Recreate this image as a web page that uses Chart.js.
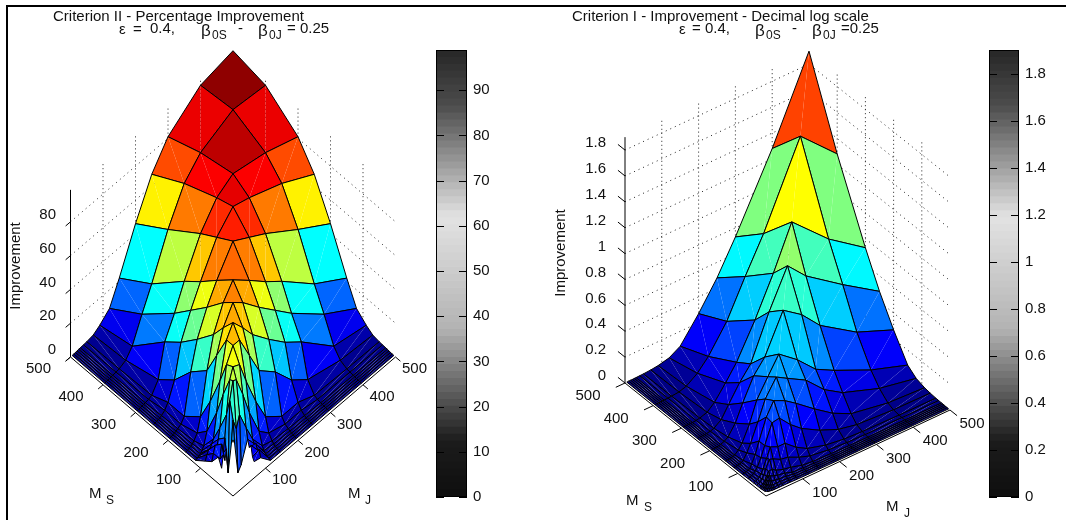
<!DOCTYPE html>
<html>
<head>
<meta charset="utf-8">
<title>Criterion surfaces</title>
<script src="https://cdn.jsdelivr.net/npm/chart.js@4/dist/chart.umd.js"></script>
<style>
    html, body { margin: 0; padding: 0; background: #fff; overflow: hidden; }
    canvas { position: absolute; top: 0; }
    #frame { position: absolute; left: 6px; top: 5px; right: 0; bottom: 0; border-top: 2px solid #000; border-left: 2px solid #000; }
</style>
</head>
<body>
<div id="frame"></div>
<canvas id="surfaceII" width="436" height="520" style="left:0"></canvas>
<canvas id="barII" width="80" height="520" style="left:436px"></canvas>
<canvas id="surfaceI" width="449" height="520" style="left:540px"></canvas>
<canvas id="barI" width="77" height="520" style="left:989px"></canvas>
<script>
// grid of the two surfaces, same for M_S (rows) and M_J (columns)
const msValues = [500, 400, 300, 250, 200, 150, 120, 90, 70, 50, 40, 30, 25, 20, 15, 10, 5]
const mjValues = [500, 400, 300, 250, 200, 150, 120, 90, 70, 50, 40, 30, 25, 20, 15, 10, 5]

// Criterion II, percentage improvement, one row per M_S
const _ = null
const improvementII = [
    [99, 95, 81, 67, 46, 22, 9, 4, 1.5, .8, .6, .5, .4, .3, .2, .1, .1],
    [95, 97, 88, 78, 59, 35, 22, 8, 3, 1.2, .9, .7, .6, .4, .3, .2, .1],
    [81, 88, 92, 86, 73, 53, 39, 27, 8, 2, 1.2, .9, .7, .5, .4, .3, .2],
    [67, 78, 86, 89, 79, 61, 49, 35, 16, 6, 3, 1.5, 1, .8, .6, .4, .2],
    [46, 59, 73, 79, 85, 70, 59, 45, 29, 6, 3, 2, 1.4, 1, .8, .5, .3],
    [22, 35, 53, 61, 70, 78.5, 70, 56, 38, 14, 6, 3, 2, 1.4, 1, .7, .4],
    [9, 22, 39, 49, 59, 70, 75, 65, 52, 28, 12, 5, 3, 2, 1.4, 1, .5],
    [4, 8, 27, 35, 45, 56, 65, 73, 66, 45, 28, 14, 12, 10, 10, 8, 5],
    [1.5, 3, 8, 16, 29, 38, 52, 66, 66, 58, 42, 24, 18, 14, 16, 12, 8],
    [.8, 1.2, 2, 6, 6, 14, 28, 45, 58, 60, 54, 35, 22, 14, 20, 12, 14],
    [.6, .9, 1.2, 3, 3, 6, 12, 28, 42, 54, 55, 45, 3, 18, 12, 16, 9],
    [.5, .7, .9, 1.5, 2, 3, 5, 14, 24, 35, 28, 35, 22, _, _, _, _],
    [.4, .6, .7, 1, 1.4, 2, 3, 12, 18, 6, 3, 22, 25, _, _, _, _],
    [.3, .4, .5, .8, 1, 1.4, 2, 13, 14, _, _, _, _, _, _, _, _],
    [.2, .3, .4, .6, .8, 1, 1.4, 10, 16, _, _, _, _, _, _, _, _],
    [.1, .2, .3, .4, .5, .7, 1, 11, 10, _, _, _, _, _, _, _, _],
    [.1, .1, .2, .2, .3, .4, .5, 7, 8, _, _, _, _, _, _, _, _]
]

// Criterion I, improvement on decimal log scale
const improvementI = [
    [1.9, 1.28, .73, .48, .27, .085, .035, .015, .008, .004, .003, .002, .002, .001, .001, .001, 0],
    [1.28, 1.55, .93, .665, .385, .18, .09, .03, .012, .006, .004, .003, .002, .002, .001, .001, 0],
    [.73, .93, 1.195, .865, .57, .31, .19, .08, .03, .012, .006, .004, .003, .002, .002, .001, .001],
    [.48, .665, .865, 1.01, .72, .385, .28, .15, .06, .02, .01, .006, .004, .003, .002, .002, .001],
    [.27, .385, .57, .72, .82, .525, .42, .25, .12, .04, .02, .01, .006, .004, .003, .002, .001],
    [.085, .18, .31, .385, .525, .635, .5, .36, .2, .08, .04, .015, .01, .007, .005, .003, .002],
    [.035, .09, .19, .28, .42, .5, .55, .42, .27, .13, .07, .025, .015, .01, .007, .004, .002],
    [.015, .03, .08, .15, .25, .36, .42, .46, .36, .2, .11, .05, .02, .015, .01, .006, .003],
    [.008, .012, .03, .06, .12, .2, .27, .36, .35, .2, .12, .06, .04, .025, .015, .01, .005],
    [.004, .006, .012, .02, .04, .08, .13, .2, .2, .225, .15, .08, .05, .03, .02, .012, .006],
    [.003, .004, .006, .01, .02, .04, .07, .11, .12, .15, .16, .1, .06, .035, .02, .012, .006],
    [.002, .003, .004, .006, .01, .015, .025, .05, .06, .08, .1, .1, .07, .04, .02, .01, .006],
    [.002, .002, .003, .004, .006, .01, .015, .02, .04, .05, .06, .07, .08, .05, .025, .012, .006],
    [.001, .002, .002, .003, .004, .007, .01, .015, .025, .03, .035, .04, .05, .06, .03, .015, .008],
    [.001, .001, .002, .002, .003, .005, .007, .01, .015, .02, .02, .02, .025, .03, .045, .02, .01],
    [.001, .001, .001, .002, .002, .003, .004, .006, .01, .012, .012, .01, .012, .015, .02, .03, .012],
    [0, 0, .001, .001, .001, .002, .002, .003, .005, .006, .006, .006, .006, .008, .01, .012, .02]
]

// colour level of the large back cells: row, column, level
const cellLevelsII = [[0, 0, .985], [0, 1, .895], [1, 0, .895], [1, 1, .94], [0, 4, .375], [4, 0, .375]]
const cellLevelsI = [[0, 0, .81], [0, 1, .5], [1, 0, .5], [1, 1, .625], [1, 2, .44], [2, 1, .44]]

const baseTicks = [100, 200, 300, 400, 500]
const zTicksII = [0, 20, 40, 60, 80]
const zTicksI = [0, .2, .4, .6, .8, 1, 1.2, 1.4, 1.6, 1.8]
const zTopII = 98.9
const zTopI = 1.9

// jet palette, the grey colorbar is its luminance
function jet(t) {
    t = Math.min(1, Math.max(0, t))
    const ramp = v => Math.min(1, Math.max(0, v))
    return [
        ramp(Math.min(4 * t - 1.5, 4.5 - 4 * t)),
        ramp(Math.min(4 * t - .5, 3.5 - 4 * t)),
        ramp(Math.min(4 * t + .5, 2.5 - 4 * t))
    ]
}
function jetColor(t) {
    const c = jet(t).map(v => Math.round(v * 255))
    return `rgb(${c[0]},${c[1]},${c[2]})`
}
function greyColor(t) {
    const c = jet(t)
    const g = Math.round(255 * (.3 * c[0] + .59 * c[1] + .11 * c[2]))
    return `rgb(${g},${g},${g})`
}

const FONT = '"Liberation Sans", Arial, sans-serif'
function put(ctx, str, x, y, size, align, rotate) {
    ctx.save()
    ctx.font = `${size}px ${FONT}`
    ctx.fillStyle = '#111'
    ctx.textAlign = align || 'left'
    ctx.textBaseline = 'middle'
    ctx.translate(x, y)
    if (rotate) ctx.rotate(rotate)
    ctx.fillText(str, 0, 0)
    ctx.restore()
}

function lineSet(points, color, width, dash) {
    return { data: points, showLine: true, fill: false, borderColor: color, borderWidth: width, borderDash: dash || [], pointRadius: 0, tension: 0, clip: false }
}
function shapeSet(points, color) {
    return { data: points, showLine: true, fill: 'shape', backgroundColor: color, borderWidth: 0, pointRadius: 0, tension: 0, clip: false }
}

function surfaceChart(id, left, width, cfg) {
    const project = (ms, mj, z) => ({
        x: cfg.x0 + mj * cfg.mjX - ms * cfg.msX,
        y: cfg.y0 - mj * cfg.mjY - ms * cfg.msY - z * cfg.zk
    })
    const sets = []

    // back walls, dotted
    cfg.zTicks.slice(1).forEach(z => {
        sets.push(lineSet([project(500, 0, z), project(500, 500, z), project(0, 500, z)], '#222', 1, [1, 4]))
    })
    baseTicks.slice(0, 4).forEach(v => {
        sets.push(lineSet([project(500, v, 0), project(500, v, cfg.zTop)], '#222', 1, [1, 3]))
        sets.push(lineSet([project(v, 500, 0), project(v, 500, cfg.zTop)], '#222', 1, [1, 3]))
    })

    // front edges of the base, z axis and ticks
    sets.push(lineSet([project(500, 0, 0), project(0, 0, 0), project(0, 500, 0)], '#000', 1))
    sets.push(lineSet([project(500, 0, 0), project(500, 0, cfg.zTop)], '#000', 1))
    cfg.zTicks.forEach(z => {
        const end = cfg.zTickMs ? project(500 + cfg.zTickMs, 0, z) : project(500, -cfg.zTickMj, z)
        sets.push(lineSet([project(500, 0, z), end], '#000', 1))
    })
    baseTicks.forEach(v => {
        sets.push(lineSet([project(v, 0, 0), project(v, -cfg.tickLen, 0)], '#000', 1))
        sets.push(lineSet([project(0, v, 0), project(-cfg.tickLen, v, 0)], '#000', 1))
    })

    // back to front so nearer cells hide farther ones
    const Z = cfg.values
    for (let i = 0; i < msValues.length - 1; i++) {
        for (let j = 0; j < mjValues.length - 1; j++) {
            const corners = [Z[i][j], Z[i][j + 1], Z[i + 1][j + 1], Z[i + 1][j]]
            if (corners.some(v => v === null)) continue
            const mean = corners.reduce((a, b) => a + b, 0) / 4
            const read = cfg.levels.find(l => l[0] === i && l[1] === j)
            const color = jetColor(read ? read[2] : mean / cfg.colorMax)
            const a = project(msValues[i], mjValues[j], Z[i][j])
            const b = project(msValues[i], mjValues[j + 1], Z[i][j + 1])
            const c = project(msValues[i + 1], mjValues[j + 1], Z[i + 1][j + 1])
            const d = project(msValues[i + 1], mjValues[j], Z[i + 1][j])
            sets.push(shapeSet([a, b, c, a], color))
            sets.push(shapeSet([a, c, d, a], color))
            sets.push(lineSet([a, b, c, d, a], '#000', 1))
        }
    }
    // first dataset is drawn last
    sets.reverse()

    const labels = {
        id: 'labels',
        afterDraw(chart) {
            const ctx = chart.ctx
            const sx = chart.scales.x
            const sy = chart.scales.y
            const at = (p, dx, dy) => [sx.getPixelForValue(p.x) + dx, sy.getPixelForValue(p.y) + dy]
            baseTicks.forEach(v => {
                put(ctx, String(v), ...at(project(v, 0, 0), cfg.msLabel[0], cfg.msLabel[1]), cfg.size, 'center')
                put(ctx, String(v), ...at(project(0, v, 0), cfg.mjLabel[0], cfg.mjLabel[1]), cfg.size, 'center')
            })
            cfg.zTicks.forEach(z => {
                const p = at(project(500, 0, z), 0, -7)
                put(ctx, String(z), cfg.zLabelX - left, p[1], cfg.size, 'right')
            })
            cfg.texts.forEach(t => {
                put(ctx, t[0], t[1] - left, t[2], t[3] || cfg.size, t[4] || 'left', t[5])
            })
        }
    }

    return new Chart(document.getElementById(id), {
        type: 'scatter',
        data: { datasets: sets },
        options: {
            responsive: false,
            animation: false,
            devicePixelRatio: 1,
            events: [],
            layout: { padding: 0 },
            plugins: { legend: { display: false }, tooltip: { enabled: false } },
            scales: {
                x: { type: 'linear', display: false, min: left, max: left + width },
                y: { type: 'linear', display: false, min: 0, max: 520, reverse: true }
            }
        },
        plugins: [labels]
    })
}

function colorBar(id, top, step, width) {
    const levels = 64
    const sets = []
    for (let i = 0; i < levels; i++) {
        sets.push({
            data: [[top * i / levels, top * (i + 1) / levels]],
            backgroundColor: greyColor((i + .5) / levels),
            borderWidth: 0,
            barPercentage: 1,
            categoryPercentage: 1,
            grouped: false
        })
    }
    const frame = {
        id: 'frame',
        afterDraw(chart) {
            const ctx = chart.ctx
            const a = chart.chartArea
            ctx.save()
            ctx.strokeStyle = '#000'
            ctx.lineWidth = 1
            ctx.strokeRect(a.left + .5, a.top + .5, a.right - a.left - 1, a.bottom - a.top - 1)
            chart.scales.y.ticks.forEach(t => {
                const y = Math.round(chart.scales.y.getPixelForValue(t.value)) + .5
                ctx.beginPath()
                ctx.moveTo(a.left, y); ctx.lineTo(a.left + 8, y)
                ctx.moveTo(a.right - 8, y); ctx.lineTo(a.right, y)
                ctx.stroke()
            })
            ctx.restore()
        }
    }
    return new Chart(document.getElementById(id), {
        type: 'bar',
        data: { labels: [''], datasets: sets },
        options: {
            responsive: false,
            animation: false,
            devicePixelRatio: 1,
            events: [],
            layout: { padding: { top: 50, bottom: 23, left: 0, right: 0 } },
            plugins: { legend: { display: false }, tooltip: { enabled: false } },
            scales: {
                x: { display: false },
                y: {
                    position: 'right',
                    min: 0,
                    max: top,
                    border: { display: false },
                    grid: { display: false, drawTicks: false },
                    afterFit: s => { s.width = width },
                    ticks: {
                        stepSize: step,
                        includeBounds: false,
                        padding: 6,
                        color: '#111',
                        font: { family: FONT, size: 15 },
                        callback: v => String(+v.toFixed(1))
                    }
                }
            }
        },
        plugins: [frame]
    })
}

surfaceChart('surfaceII', 0, 436, {
    values: improvementII, levels: cellLevelsII, zTicks: zTicksII, zTop: zTopII, colorMax: 98,
    x0: 233, y0: 496, mjX: .325, msX: .325, mjY: .278, msY: .278, zk: 1.69,
    zTickMs: 0, zTickMj: 15, tickLen: 15, size: 15, zLabelX: 56,
    msLabel: [-32, 12], mjLabel: [19, 12],
    texts: [
        ['Criterion II - Percentage Improvement', 53, 17, 15],
        ['Improvement', 16, 266, 15, 'center', -Math.PI / 2],
        ['ε', 119, 30], ['=', 133, 30], ['0.4,', 150, 29],
        ['β', 201, 31, 17], ['0S', 212, 36, 12], ['-', 238, 29],
        ['β', 258, 31, 17], ['0J', 269, 36, 12], ['= 0.25', 287, 29],
        ['M', 89, 494], ['S', 106, 501, 12],
        ['M', 348, 494], ['J', 365, 501, 12]
    ]
})

surfaceChart('surfaceI', 540, 449, {
    values: improvementI, levels: cellLevelsI, zTicks: zTicksI, zTop: zTopI, colorMax: 1.9,
    x0: 766, y0: 496, mjX: .368, msX: .282, mjY: .172, msY: .226, zk: 129.4,
    zTickMs: 25, zTickMj: 0, tickLen: 25, size: 15, zLabelX: 606,
    msLabel: [-37, 13], mjLabel: [22, 14],
    texts: [
        ['Criterion I - Improvement - Decimal log scale', 572, 17, 15],
        ['Improvement', 561, 253, 15, 'center', -Math.PI / 2],
        ['ε', 679, 30], ['= 0.4,', 692, 29],
        ['β', 755, 31, 17], ['0S', 766, 36, 12], ['-', 792, 29],
        ['β', 812, 31, 17], ['0J', 823, 36, 12], ['=0.25', 841, 29],
        ['M', 626, 501], ['S', 644, 508, 12],
        ['M', 886, 507], ['J', 904, 514, 12]
    ]
})

colorBar('barII', zTopII, 10, 49)
colorBar('barI', zTopI, .2, 47)
</script>
</body>
</html>
